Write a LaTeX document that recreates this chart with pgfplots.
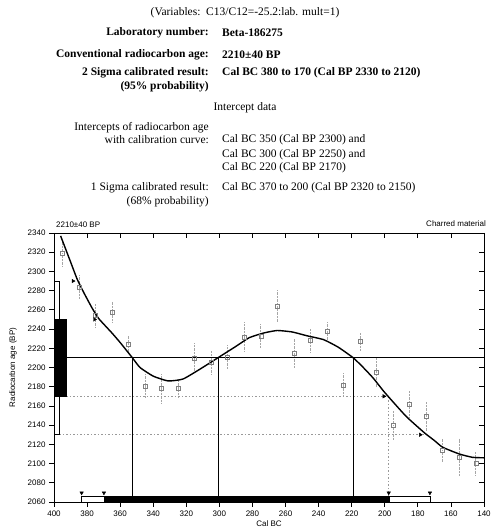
\documentclass[border=0pt]{standalone}
\usepackage{fontspec}
\setmainfont{Liberation Sans}
\newfontfamily\hdr{Liberation Serif}
\usepackage{pgfplots}
\pgfplotsset{compat=1.18}
\usepackage{pgfplotstable}

% calibration points: x (Cal BC), age, error
\pgfplotstableread{
x y e
395 2319 14
385 2284 12
375 2254 12
365 2258 11
355 2224 10
345 2181 12
335 2178 15
325 2178 9
315 2210 15
305 2205 13
295 2211 12
285 2232 16
275 2233 13
265 2264 17
255 2215 16
245 2228 12
235 2238 10
225 2182 12
215 2227 10
205 2195 15
195 2140 16
185 2162 14
175 2149 16
165 2114 12
155 2107 19
145 2100 12
}\calpts

% calibration curve
\pgfplotstableread{
x y
396 2337
390 2310
386 2292
382 2278
377 2262
373 2251
365 2236
360 2226
353 2211
348 2200
340 2191
331 2186
322 2188
312 2198
301 2210
290 2222
282 2231
273 2236
265 2238.5
256 2237
247 2233
237 2229
228 2221
219 2210
213 2200
207 2189
201 2176
198 2170
187 2149
176 2132
170 2124
165 2117
155 2110
147 2106.5
140 2106
}\calcurve

\newcommand{\cf}{\fontsize{8}{9}\selectfont}
\newcommand{\hf}{\hdr\fontsize{11.5}{13}\selectfont}
\newcommand{\hb}{\hdr\bfseries\fontsize{11.5}{13}\selectfont}

\begin{document}
\begin{tikzpicture}
\path[use as bounding box] (0pt,0pt) rectangle (497pt,530pt);

% header text
\begin{scope}[every node/.style={inner sep=0pt}]
\node[font=\hf] at (245pt,517.7pt) {(Variables:\ \ C13/C12=-25.2:lab. mult=1)};
\node[font=\hb,anchor=east] at (209pt,497.7pt) {Laboratory number:};
\node[font=\hb,anchor=west] at (222pt,497.7pt) {Beta-186275};
\node[font=\hb,anchor=east] at (209pt,475.7pt) {Conventional radiocarbon age:};
\node[font=\hb,anchor=west] at (222pt,475.7pt) {2210±40 BP};
\node[font=\hb,anchor=east] at (209pt,457.3pt) {2 Sigma calibrated result:};
\node[font=\hb,anchor=west] at (222pt,457.3pt) {Cal BC 380 to 170 (Cal BP 2330 to 2120)};
\node[font=\hb,anchor=east] at (209pt,443.3pt) {(95\% probability)};
\node[font=\hf] at (245pt,422.3pt) {Intercept data};
\node[font=\hf,anchor=east] at (209pt,402.7pt) {Intercepts of radiocarbon age};
\node[font=\hf,anchor=east] at (209pt,390pt) {with calibration curve:};
\node[font=\hf,anchor=west] at (222pt,390pt) {Cal BC 350 (Cal BP 2300) and};
\node[font=\hf,anchor=west] at (222pt,375.7pt) {Cal BC 300 (Cal BP 2250) and};
\node[font=\hf,anchor=west] at (222pt,362.7pt) {Cal BC 220 (Cal BP 2170)};
\node[font=\hf,anchor=east] at (209pt,342.3pt) {1 Sigma calibrated result:};
\node[font=\hf,anchor=west] at (222pt,342.3pt) {Cal BC 370 to 200 (Cal BP 2320 to 2150)};
\node[font=\hf,anchor=east] at (209pt,328.3pt) {(68\% probability)};

% chart corner labels
\node[font=\cf,anchor=west] at (56pt,305pt) {2210±40 BP};
\node[font=\cf,anchor=east] at (486pt,306.5pt) {Charred material};
\end{scope}

\begin{axis}[
  at={(54pt,28pt)}, anchor=south west,
  width=430pt, height=269pt, scale only axis,
  x dir=reverse,
  xmin=140, xmax=400, ymin=2060, ymax=2340,
  xtick={140,160,...,400}, ytick={2060,2080,...,2340},
  tick pos=left, tick align=outside,
  major tick length=5pt,
  tick style={black, line width=0.8pt},
  axis line style={black, line width=0.8pt},
  /pgf/number format/assume math mode=true,
  /pgf/number format/1000 sep={},
  ticklabel style={font=\cf},
  xlabel={Cal BC}, ylabel={Radiocarbon age (BP)},
  xlabel style={font=\cf, at={(axis description cs:0.5,0)}, anchor=center, yshift=-22pt},
  ylabel style={font=\cf, at={(axis description cs:-0.095,0.5)}, anchor=center},
]
% points with error bars
\addplot[only marks, mark=square, mark size=2pt, gray,
  error bars/.cd, y dir=both, y explicit, error mark=none,
  error bar style={gray!70, densely dotted, line width=0.6pt}]
  table[x=x, y=y, y error=e] {\calpts};

% dotted sigma guides
\addplot[gray!80, dash pattern=on 1.5pt off 2pt, line width=0.5pt] coordinates {(392.5,2170) (198,2170)};
\addplot[gray!80, dash pattern=on 1.5pt off 2pt, line width=0.5pt] coordinates {(396.8,2130) (176,2130)};
\addplot[gray!80, dash pattern=on 1.5pt off 2pt, line width=0.5pt] coordinates {(198,2066) (198,2170)};

% age ranges on the y axis
\addplot[draw=black, fill=white, line width=0.7pt] coordinates {(400,2130) (396.8,2130) (396.8,2290) (400,2290)} -- cycle;
\addplot[draw=black, fill=black] coordinates {(400,2170) (392.5,2170) (392.5,2250) (400,2250)} -- cycle;

% calibrated ranges on the x axis
\addplot[draw=black, fill=white, line width=0.7pt] coordinates {(383.3,2060) (383.3,2066) (369.8,2066) (369.8,2060)} -- cycle;
\addplot[draw=black, fill=white, line width=0.7pt] coordinates {(197.6,2060) (197.6,2066) (172.7,2066) (172.7,2060)} -- cycle;
\addplot[draw=black, fill=black] coordinates {(369.8,2060) (369.8,2066) (197.6,2066) (197.6,2060)} -- cycle;
\addplot[only marks, mark=triangle*, mark size=2pt, mark options={rotate=180, black}] coordinates {(383.3,2069.5) (369.8,2069.5) (197.6,2069.5) (172.7,2069.5)};

% intercept lines
\addplot[black, line width=1pt] coordinates {(392.5,2210) (140,2210)};
\addplot[black, line width=1pt] coordinates {(352.7,2066) (352.7,2210)};
\addplot[black, line width=1pt] coordinates {(300.7,2066) (300.7,2210)};
\addplot[black, line width=1pt] coordinates {(219,2066) (219,2210)};

% sigma markers on the curve
\addplot[only marks, mark=triangle*, mark size=2pt, mark options={rotate=-90, black}] coordinates {(388.5,2290) (375.5,2250) (200.5,2170) (178.5,2130)};

% calibration curve
\addplot[black, line width=1.4pt, smooth, tension=0.3] table[x=x, y=y] {\calcurve};
\end{axis}

% inward ticks on top and right
\begin{axis}[
  at={(54pt,28pt)}, anchor=south west,
  width=430pt, height=269pt, scale only axis,
  x dir=reverse,
  xmin=140, xmax=400, ymin=2060, ymax=2340,
  xtick={140,160,...,400}, ytick={2060,2080,...,2340},
  tick pos=right, tick align=inside,
  major tick length=5pt,
  tick style={black, line width=0.8pt},
  axis line style={black, line width=0.8pt},
  xticklabels={}, yticklabels={},
]
\end{axis}
\end{tikzpicture}
\end{document}
